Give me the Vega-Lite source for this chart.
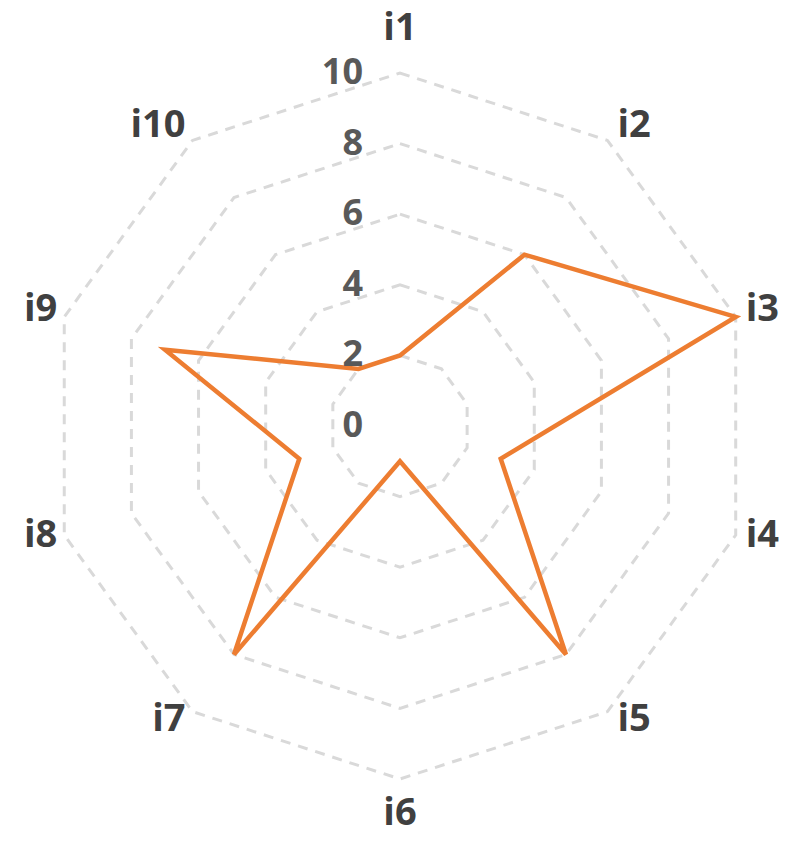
{
  "$schema": "https://vega.github.io/schema/vega-lite/v6.json",
  "width": 788,
  "height": 842,
  "autosize": "none",
  "padding": 0,
  "background": "white",
  "config": {"view": {"stroke": null}},
  "datasets": {
    "radar": [
      {"cat": "i1", "idx": 0, "value": 2, "levels": [2, 4, 6, 8, 10]},
      {"cat": "i2", "idx": 1, "value": 6, "levels": [2, 4, 6, 8, 10]},
      {"cat": "i3", "idx": 2, "value": 10, "levels": [2, 4, 6, 8, 10]},
      {"cat": "i4", "idx": 3, "value": 3, "levels": [2, 4, 6, 8, 10]},
      {"cat": "i5", "idx": 4, "value": 8, "levels": [2, 4, 6, 8, 10]},
      {"cat": "i6", "idx": 5, "value": 1, "levels": [2, 4, 6, 8, 10]},
      {"cat": "i7", "idx": 6, "value": 8, "levels": [2, 4, 6, 8, 10]},
      {"cat": "i8", "idx": 7, "value": 3, "levels": [2, 4, 6, 8, 10]},
      {"cat": "i9", "idx": 8, "value": 7, "levels": [2, 4, 6, 8, 10]},
      {"cat": "i10", "idx": 9, "value": 2, "levels": [2, 4, 6, 8, 10]}
    ],
    "ticks": [
      {"tick": 0}, {"tick": 2}, {"tick": 4}, {"tick": 6}, {"tick": 8}, {"tick": 10}
    ]
  },
  "layer": [
    {
      "data": {"name": "radar"},
      "transform": [
        {"flatten": ["levels"], "as": ["level"]},
        {"calculate": "datum.level*sin(datum.idx*PI/5)", "as": "px"},
        {"calculate": "datum.level*cos(datum.idx*PI/5)", "as": "py"}
      ],
      "mark": {"type": "line", "interpolate": "linear-closed", "stroke": "#d9d9d9", "strokeWidth": 3, "strokeDash": [10, 8]},
      "encoding": {
        "x": {"field": "px", "type": "quantitative", "scale": {"domain": [-11.331, 10.992], "nice": false, "zero": false}, "axis": null},
        "y": {"field": "py", "type": "quantitative", "scale": {"domain": [-11.785, 12.068], "nice": false, "zero": false}, "axis": null},
        "detail": {"field": "level", "type": "nominal"},
        "order": {"field": "idx", "type": "quantitative"}
      }
    },
    {
      "data": {"name": "radar"},
      "transform": [
        {"calculate": "datum.value*sin(datum.idx*PI/5)", "as": "px"},
        {"calculate": "datum.value*cos(datum.idx*PI/5)", "as": "py"}
      ],
      "mark": {"type": "line", "interpolate": "linear-closed", "stroke": "#ED7D31", "strokeWidth": 4.5, "strokeJoin": "miter"},
      "encoding": {
        "x": {"field": "px", "type": "quantitative"},
        "y": {"field": "py", "type": "quantitative"},
        "order": {"field": "idx", "type": "quantitative"}
      }
    },
    {
      "data": {"name": "radar"},
      "transform": [
        {"filter": "datum.idx == 0"},
        {"calculate": "0", "as": "px"},
        {"calculate": "11.25", "as": "py"}
      ],
      "mark": {"type": "text", "font": "Open Sans", "fontWeight": "bold", "fontSize": 38, "color": "#404040", "align": "center", "baseline": "middle"},
      "encoding": {
        "x": {"field": "px", "type": "quantitative"},
        "y": {"field": "py", "type": "quantitative"},
        "text": {"field": "cat", "type": "nominal"}
      }
    },
    {
      "data": {"name": "radar"},
      "transform": [
        {"filter": "datum.idx == 5"},
        {"calculate": "0", "as": "px"},
        {"calculate": "-11.0", "as": "py"}
      ],
      "mark": {"type": "text", "font": "Open Sans", "fontWeight": "bold", "fontSize": 38, "color": "#404040", "align": "center", "baseline": "middle"},
      "encoding": {
        "x": {"field": "px", "type": "quantitative"},
        "y": {"field": "py", "type": "quantitative"},
        "text": {"field": "cat", "type": "nominal"}
      }
    },
    {
      "data": {"name": "radar"},
      "transform": [
        {"filter": "datum.idx >= 1 && datum.idx <= 4"},
        {"calculate": "10*sin(datum.idx*PI/5)", "as": "px"},
        {"calculate": "10.4*cos(datum.idx*PI/5)", "as": "py"}
      ],
      "mark": {"type": "text", "font": "Open Sans", "fontWeight": "bold", "fontSize": 38, "color": "#404040", "align": "left", "baseline": "middle", "dx": 10, "dy": -3},
      "encoding": {
        "x": {"field": "px", "type": "quantitative"},
        "y": {"field": "py", "type": "quantitative"},
        "text": {"field": "cat", "type": "nominal"}
      }
    },
    {
      "data": {"name": "radar"},
      "transform": [
        {"filter": "datum.idx >= 6"},
        {"calculate": "10*sin(datum.idx*PI/5)", "as": "px"},
        {"calculate": "10.4*cos(datum.idx*PI/5)", "as": "py"}
      ],
      "mark": {"type": "text", "font": "Open Sans", "fontWeight": "bold", "fontSize": 38, "color": "#404040", "align": "right", "baseline": "middle", "dx": -7, "dy": -3},
      "encoding": {
        "x": {"field": "px", "type": "quantitative"},
        "y": {"field": "py", "type": "quantitative"},
        "text": {"field": "cat", "type": "nominal"}
      }
    },
    {
      "data": {"name": "ticks"},
      "transform": [
        {"calculate": "0", "as": "px"}
      ],
      "mark": {"type": "text", "font": "Open Sans", "fontWeight": "bold", "fontSize": 36, "color": "#595959", "align": "right", "baseline": "middle", "dx": -37},
      "encoding": {
        "x": {"field": "px", "type": "quantitative"},
        "y": {"field": "tick", "type": "quantitative"},
        "text": {"field": "tick", "type": "quantitative"}
      }
    }
  ]
}
